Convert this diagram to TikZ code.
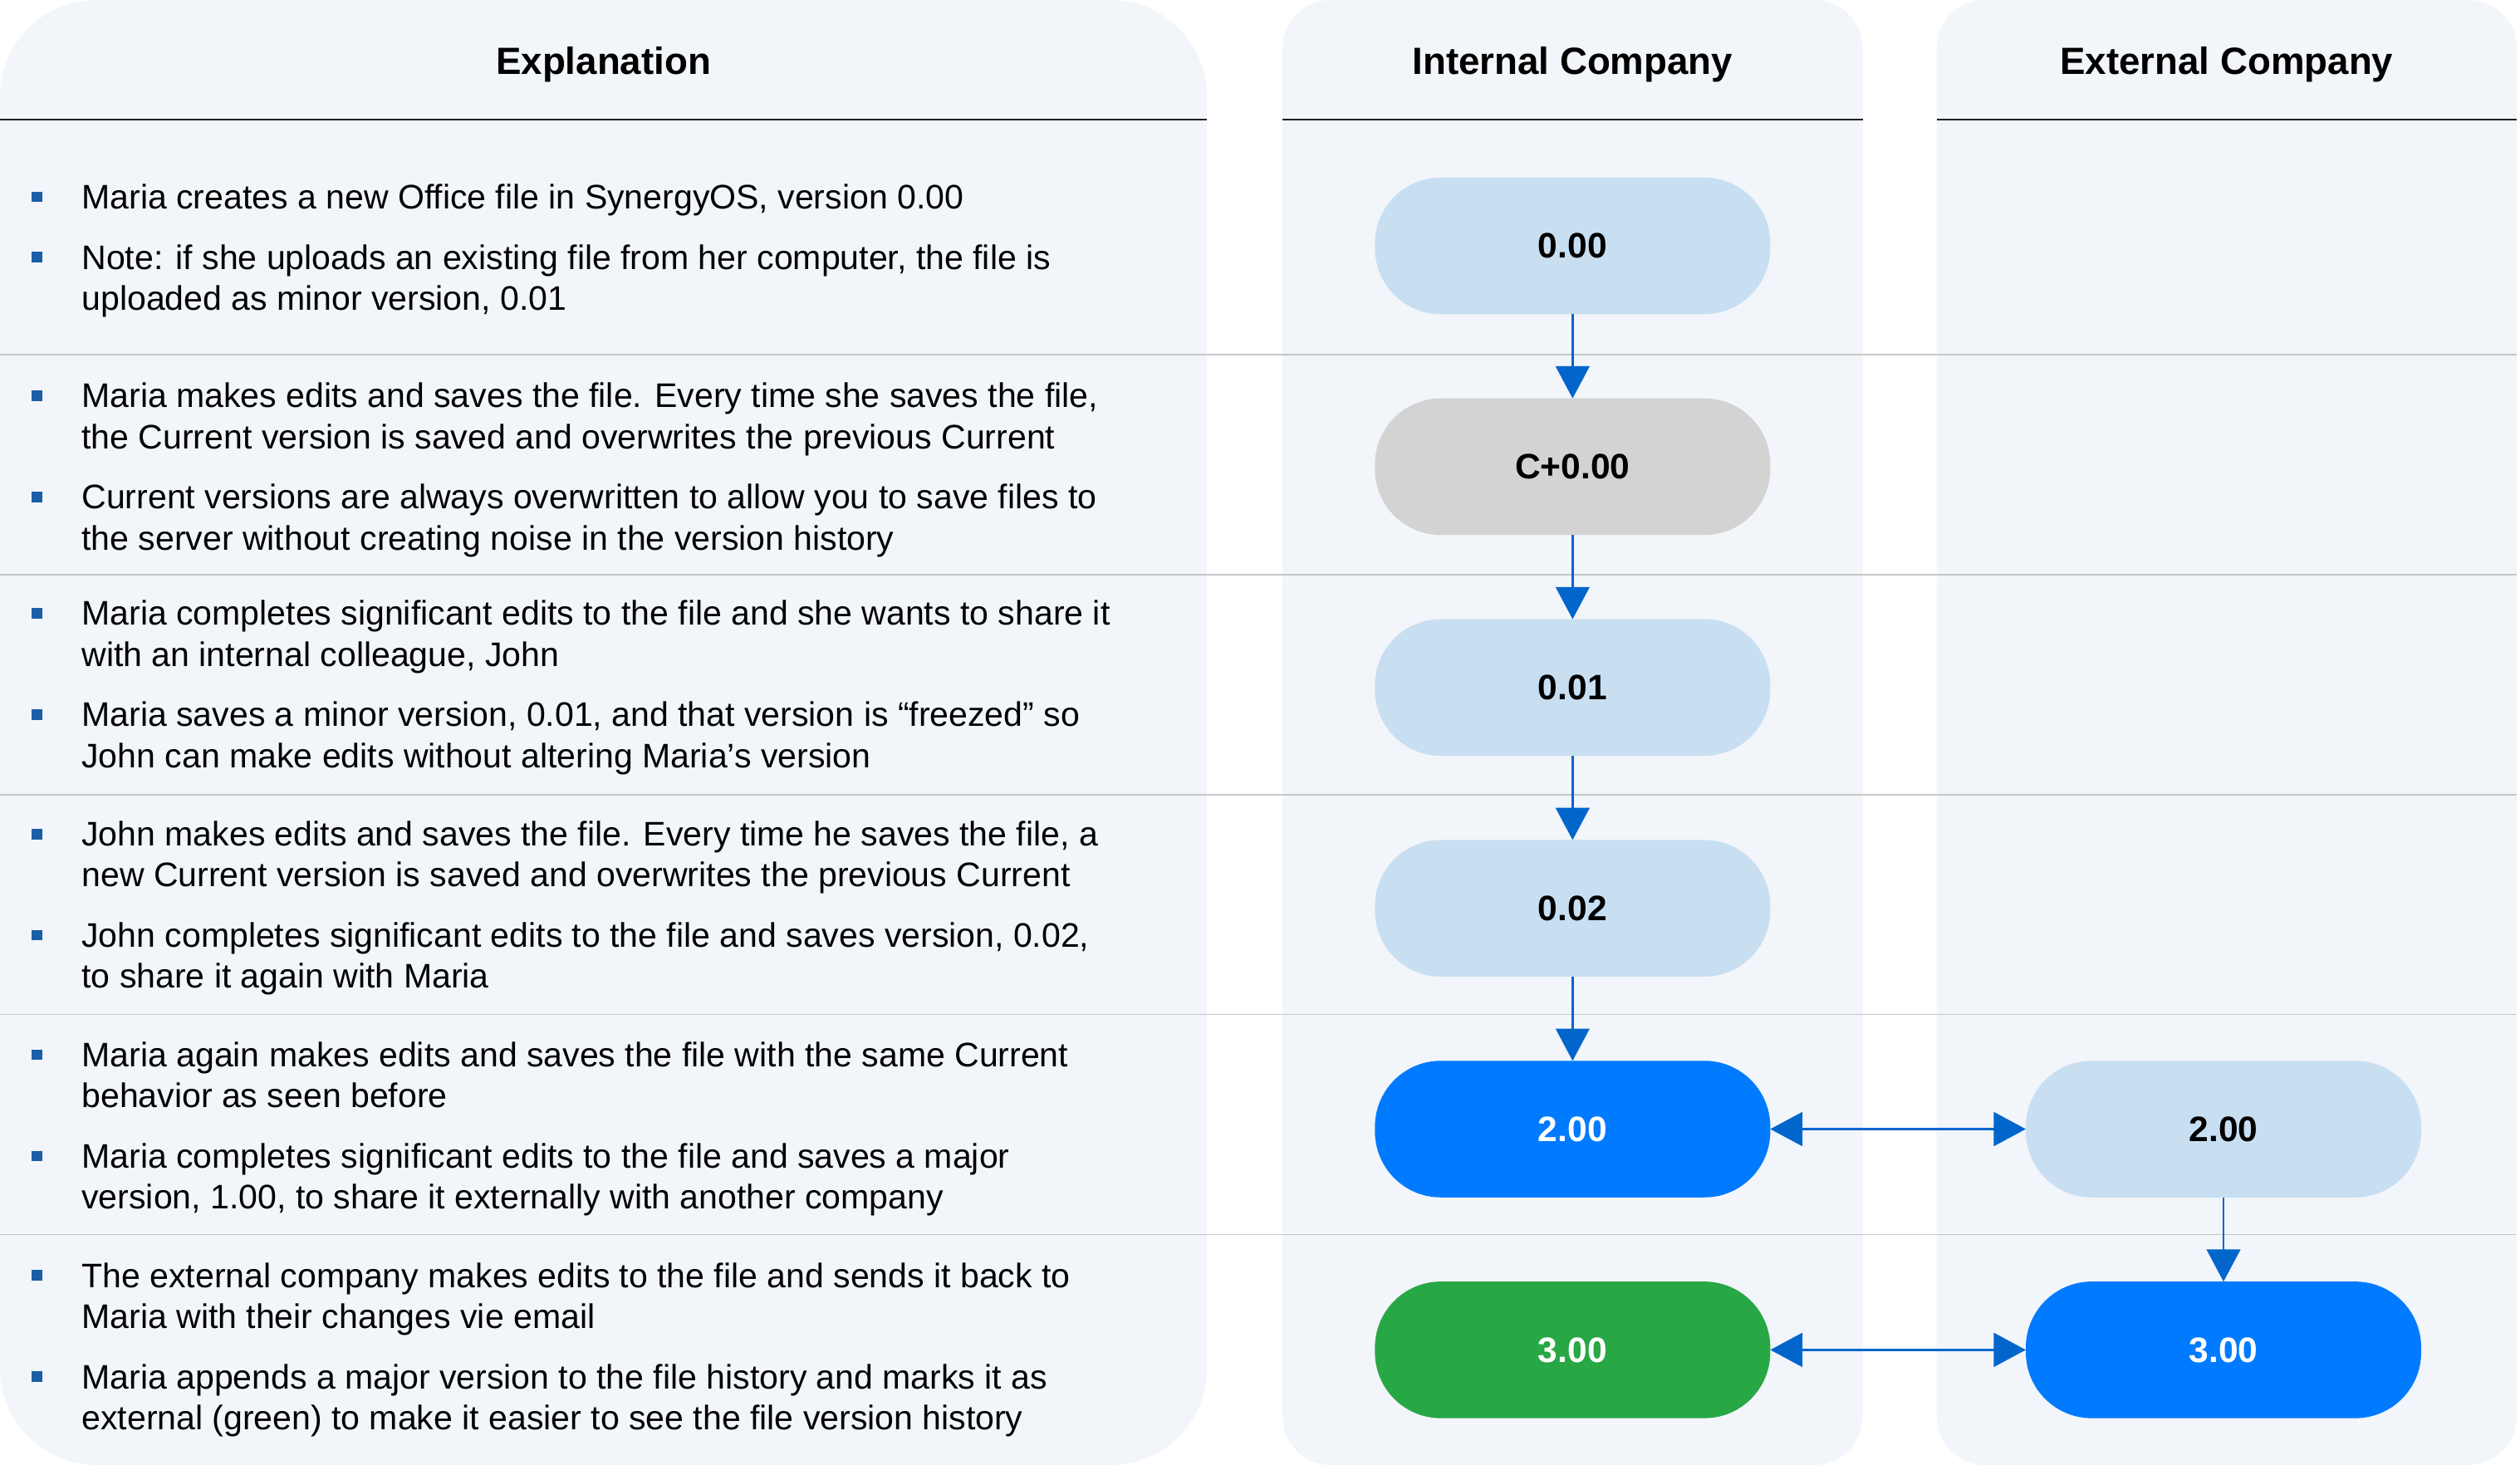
\documentclass[tikz,border=0pt]{standalone}
\usepackage{fontspec}
\setmainfont{Liberation Sans}
\usetikzlibrary{positioning,arrows.meta}
\definecolor{panelC}{HTML}{F2F5FA}
\definecolor{paleC}{HTML}{C8DFF2}
\definecolor{curC}{HTML}{D3D3D3}
\definecolor{majC}{HTML}{007BFF}
\definecolor{extC}{HTML}{28A745}
\definecolor{flowC}{HTML}{0066CC}
\definecolor{ruleC}{HTML}{C6C6C6}
\definecolor{darkC}{HTML}{1E1E1E}
\definecolor{bulletC}{HTML}{1B5EA6}

\newcommand{\bitem}{\leavevmode\llap{\textcolor{bulletC}{\rule[2.1pt]{3.3pt}{3.3pt}}\hspace{12.3pt}}}

\begin{document}
\begin{tikzpicture}[
  x=1pt, y=1pt,
  every node/.style={font=\rmfamily, text=black},
  panel/.style={
    fill=panelC, rounded corners=15pt,
    minimum width=180.5pt, minimum height=455.8pt,
    inner sep=0pt, outer sep=0pt,
  },
  headtitle/.style={font=\rmfamily\fontsize{11.8}{14}\selectfont\bfseries, anchor=base},
  headrule/.style={darkC, line width=0.55pt},
  rowrule/.style={ruleC, line width=0.45pt},
  expltext/.style={font=\rmfamily\fontsize{10.6}{12.75}\selectfont,
    align=left, anchor=west, inner sep=0pt},
  ver/.style={
    rounded corners=20.5pt, minimum width=123pt, minimum height=42.5pt,
    inner sep=0pt, outer sep=0pt,
    font=\rmfamily\fontsize{11}{13}\selectfont\bfseries,
  },
  flow/.style={-{Triangle[length=10pt,width=10.5pt]}, flowC, line width=0.6pt},
  both/.style={{Triangle[length=10pt,width=10.5pt]}-{Triangle[length=10pt,width=10.5pt]},
    flowC, line width=0.9pt},
]
\useasboundingbox (0,0) rectangle (784,-455.8);

% ── Panels ──
\node[panel, rounded corners=30pt, minimum width=375.5pt, anchor=north west] (expl) at (0,0) {};
\node[panel, right=23.5pt of expl] (intl) {};
\node[panel, right=23pt of intl] (extl) {};

% ── Headers ──
\node[headtitle] (hexpl) at ([yshift=-23.25pt]expl.north) {Explanation};
\node[headtitle] (hintl) at ([yshift=-23.25pt]intl.north) {Internal Company};
\node[headtitle] (hextl) at ([yshift=-23.25pt]extl.north) {External Company};
\draw[headrule] ([yshift=-37.2pt]expl.north west) -- ([yshift=-37.2pt]expl.north east);
\draw[headrule] ([yshift=-37.2pt]intl.north west) -- ([yshift=-37.2pt]intl.north east);
\draw[headrule] ([yshift=-37.2pt]extl.north west) -- ([yshift=-37.2pt]extl.north east);

% ── Row separators ──
\foreach \y in {110.3,178.75,247.2,315.65,384.1}
  \draw[rowrule] (0,-\y) -- (783,-\y);

% ── Internal versions ──
\node[ver, fill=paleC] (v000) at ([yshift=-76.5pt]intl.north) {0.00};
\node[ver, fill=curC, below=26.2pt of v000] (vcur) {C+0.00};
\node[ver, fill=paleC, below=26.2pt of vcur] (v001) {0.01};
\node[ver, fill=paleC, below=26.2pt of v001] (v002) {0.02};
\node[ver, fill=majC, text=white, below=26.2pt of v002] (v200) {2.00};
\node[ver, fill=extC, text=white, below=26.2pt of v200] (v300) {3.00};

% ── External versions ──
\node[ver, fill=paleC, right=79.5pt of v200] (e200) {2.00};
\node[ver, fill=majC, text=white, below=26.2pt of e200] (e300) {3.00};

% ── Flow arrows ──
\draw[flow] (v000) -- (vcur);
\draw[flow] (vcur) -- (v001);
\draw[flow] (v001) -- (v002);
\draw[flow] (v002) -- (v200);
\draw[flow] (e200) -- (e300);
\draw[both] (v200) -- (e200);
\draw[both] (v300) -- (e300);

% ── Explanation texts ──
\node[expltext, yshift=-1.5pt] (t1) at (25.25,0 |- v000) {%
  \bitem Maria creates a new Office file in SynergyOS, version 0.00\\[6pt]
  \bitem Note: if she uploads an existing file from her computer, the file is\\
  uploaded as minor version, 0.01};
\node[expltext, yshift=-1pt] (t2) at (25.25,0 |- vcur) {%
  \bitem Maria makes edits and saves the file. Every time she saves the file,\\
  the Current version is saved and overwrites the previous Current\\[6pt]
  \bitem Current versions are always overwritten to allow you to save files to\\
  the server without creating noise in the version history};
\node[expltext] (t3) at (25.25,0 |- v001) {%
  \bitem Maria completes significant edits to the file and she wants to share it\\
  with an internal colleague, John\\[6pt]
  \bitem Maria saves a minor version, 0.01, and that version is “freezed” so\\
  John can make edits without altering Maria’s version};
\node[expltext] (t4) at (25.25,0 |- v002) {%
  \bitem John makes edits and saves the file. Every time he saves the file, a\\
  new Current version is saved and overwrites the previous Current\\[6pt]
  \bitem John completes significant edits to the file and saves version, 0.02,\\
  to share it again with Maria};
\node[expltext] (t5) at (25.25,0 |- v200) {%
  \bitem Maria again makes edits and saves the file with the same Current\\
  behavior as seen before\\[6pt]
  \bitem Maria completes significant edits to the file and saves a major\\
  version, 1.00, to share it externally with another company};
\node[expltext] (t6) at (25.25,0 |- v300) {%
  \bitem The external company makes edits to the file and sends it back to\\
  Maria with their changes vie email\\[6pt]
  \bitem Maria appends a major version to the file history and marks it as\\
  external (green) to make it easier to see the file version history};

\end{tikzpicture}
\end{document}
